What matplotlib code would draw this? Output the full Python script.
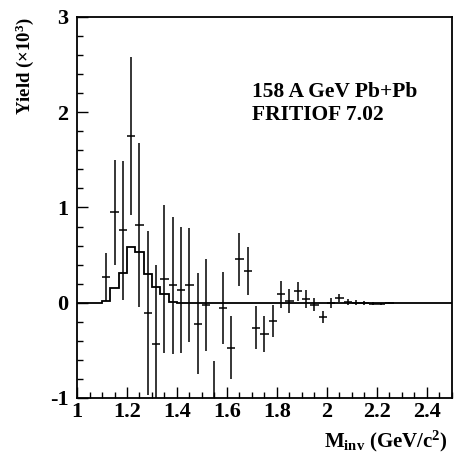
import numpy as np
import matplotlib
matplotlib.use("Agg")
import matplotlib.pyplot as plt
from matplotlib.ticker import MultipleLocator

plt.rcParams["font.family"] = "Liberation Serif"
plt.rcParams["font.weight"] = "bold"
plt.rcParams["axes.unicode_minus"] = False
plt.rcParams["mathtext.fontset"] = "custom"
plt.rcParams["mathtext.rm"] = "Liberation Serif:bold"
plt.rcParams["mathtext.it"] = "Liberation Serif:bold"
plt.rcParams["mathtext.bf"] = "Liberation Serif:bold"

# bin width 1/30 GeV/c^2, data points at bin centres from 1.1 to 2.2667
bin_w = 1.0 / 30
data_x = 1.1 + bin_w * (np.arange(35) + 0.5)
data_y = [0.27, 0.95, 0.76, 1.75, 0.82, -0.11, -0.43, 0.25, 0.185, 0.13,
          0.185, -0.22, -0.025, -1.06, -0.057, -0.47, 0.455, 0.33, -0.26, -0.33,
          -0.19, 0.087, 0.017, 0.12, 0.04, -0.02, -0.15, 0.0, 0.05, 0.01,
          0.0, 0.0, -0.01, -0.01, 0.0]
data_err = [0.25, 0.55, 0.73, 0.83, 0.86, 0.86, 0.83, 0.78, 0.72, 0.66,
            0.6, 0.53, 0.48, 0.45, 0.38, 0.33, 0.28, 0.25, 0.23, 0.19,
            0.165, 0.145, 0.125, 0.1, 0.09, 0.07, 0.06, 0.05, 0.04, 0.03,
            0.025, 0.02, 0.015, 0.01, 0.01]

# FRITIOF 7.02 prediction, histogram over 1.0 - 2.5
sim_edges = np.concatenate(([1.0], 1.1 + bin_w * np.arange(10), [2.5]))
sim_y = [0.0, 0.02, 0.16, 0.31, 0.58, 0.53, 0.305, 0.165, 0.087, 0.01, 0.0]

fig = plt.figure(figsize=(4.57, 4.63), dpi=100)
ax = fig.add_axes([0.1685, 0.1404, 0.8205, 0.8229])

ax.stairs(sim_y, sim_edges, color="black", lw=1.3)
ax.errorbar(data_x, data_y, xerr=bin_w / 2, yerr=data_err, fmt="none",
            ecolor="black", elinewidth=1.1, capsize=0)

ax.set_xlim(1, 2.5)
ax.set_ylim(-1, 3)
ax.xaxis.set_major_locator(MultipleLocator(0.2))
ax.xaxis.set_minor_locator(MultipleLocator(0.05))
ax.yaxis.set_major_locator(MultipleLocator(1))
ax.yaxis.set_minor_locator(MultipleLocator(0.2))
ax.set_xticks([1, 1.2, 1.4, 1.6, 1.8, 2, 2.2, 2.4])
ax.set_xticklabels(["1", "1.2", "1.4", "1.6", "1.8", "2", "2.2", "2.4"])
ax.tick_params(which="both", direction="in", labelsize=16, width=1)
ax.tick_params(which="major", length=8, pad=3)
ax.tick_params(which="minor", length=4)
ax.tick_params(axis="y", which="major", pad=6)
for s in ax.spines.values():
    s.set_linewidth(1.3)

ax.text(0.467, 0.79, "158 A GeV Pb+Pb", transform=ax.transAxes,
        fontsize=15.5, va="baseline")
ax.text(0.467, 0.73, "FRITIOF 7.02", transform=ax.transAxes,
        fontsize=15.5, va="baseline")

fig.text(0.055, 0.963, "Yield (\u00d710$^{3}$)", rotation=90, va="top",
         ha="center", fontsize=13.5)
fig.text(0.98, 0.035, "M$_{\\rm inv}$ (GeV/c$^{2}$)", ha="right",
         va="baseline", fontsize=15)

fig.savefig("out.png", dpi=100)
